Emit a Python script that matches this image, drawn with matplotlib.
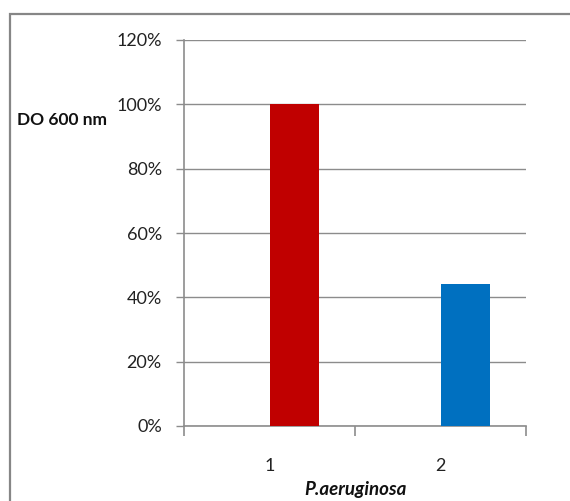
import numpy as np
import matplotlib.pyplot as plt
from matplotlib.patches import Rectangle
from matplotlib.ticker import FuncFormatter

categories = ["1", "2"]
values = [100, 44]
bar_colors = ["#C00000", "#0070C0"]
y_ticks = [0, 20, 40, 60, 80, 100, 120]

plt.rcParams["font.family"] = ["Lato", "DejaVu Sans"]

fig = plt.figure(figsize=(5.7, 5.01), dpi=100)
ax = fig.add_axes([184 / 570, 75 / 501, 342 / 570, 386 / 501])

# chart frame (only top and left edges fall inside the canvas)
fig.patches.append(Rectangle((10 / 570, -0.1), 1.2, (501 - 14) / 501 + 0.1,
                             transform=fig.transFigure, fill=False,
                             edgecolor="#868686", linewidth=1.6, zorder=0))

x = np.arange(1, len(categories) + 1)
# bars start at the category centre, as in a two-series cluster
ax.bar(x, values, width=0.287, align="edge", color=bar_colors, zorder=3)

ax.set_xlim(0.5, len(categories) + 0.5)
ax.set_ylim(0, 120)
ax.set_yticks(y_ticks)
ax.yaxis.set_major_formatter(FuncFormatter(lambda v, p: f"{int(v)}%"))
ax.grid(axis="y", color="#8c8c8c", linewidth=1.0, zorder=0)

# category labels centred, tick marks on the boundaries
ax.set_xticks(x)
ax.set_xticklabels(categories)
ax.set_xticks(np.arange(0.5, len(categories) + 1), minor=True)
ax.tick_params(axis="x", which="major", length=0, pad=23, labelsize=13, colors="#222222")
ax.tick_params(axis="x", which="minor", length=7, width=1.2, color="#8c8c8c")
ax.tick_params(axis="y", length=6, width=1, color="#8c8c8c", pad=10, labelsize=13,
               labelcolor="#222222")

for side in ["top", "right"]:
    ax.spines[side].set_visible(False)
for side in ["left", "bottom"]:
    ax.spines[side].set_color("#8c8c8c")
    ax.spines[side].set_linewidth(1.2)

fig.text(17 / 570, 1 - 120 / 501, "DO 600 nm", fontsize=12.5, fontweight="bold",
         ha="left", va="center", color="#111111")
fig.text(355 / 570, 1 - 490 / 501, "P.aeruginosa", fontsize=13.5, fontweight="bold",
         fontstyle="italic", ha="center", va="center", color="#111111")

fig.savefig("out.png", dpi=100)
